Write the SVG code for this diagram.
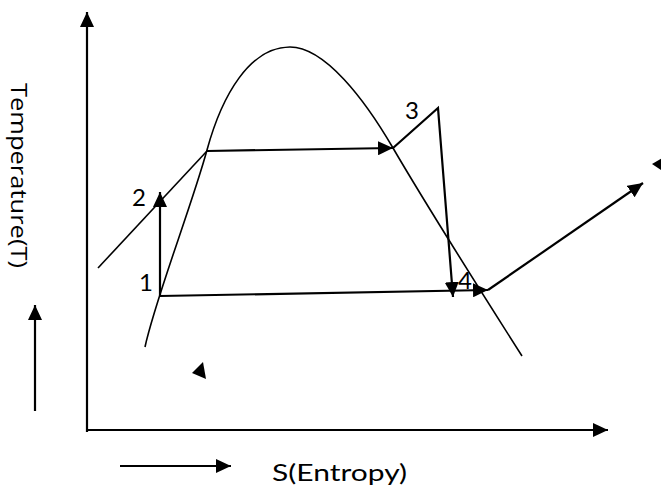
<svg xmlns="http://www.w3.org/2000/svg" width="661" height="489" viewBox="0 0 661 489">
<defs>
<style>
.ln{fill:none;stroke:#000;stroke-width:2.2;stroke-linecap:butt;stroke-linejoin:miter}
.thin{fill:none;stroke:#000;stroke-width:1.6}
.lbl{font-family:Lato,"Liberation Sans",sans-serif;font-size:24px;fill:#000}
.ax{font-family:"Open Sans","Liberation Sans",sans-serif;font-size:21px;fill:#000}
.ax2{font-family:Lato,"Liberation Sans",sans-serif;font-size:24px;fill:#000}
</style>
<marker id="ah" markerUnits="userSpaceOnUse" markerWidth="16" markerHeight="14" refX="15" refY="7" orient="auto">
<path d="M0,0 L15,7 L0,14 Z" fill="#000"/>
</marker>
</defs>
<rect width="661" height="489" fill="#fff"/>

<g id="axes">
<line class="ln" x1="87" y1="432" x2="87" y2="12" marker-end="url(#ah)"/>
<line class="ln" x1="86" y1="430" x2="608" y2="430" marker-end="url(#ah)"/>
<line class="ln" x1="35" y1="411" x2="35" y2="305" marker-end="url(#ah)"/>
<line class="ln" x1="120" y1="466" x2="231" y2="466" marker-end="url(#ah)"/>
<text class="ax" transform="translate(11,83) rotate(90)" textLength="185" lengthAdjust="spacingAndGlyphs">Temperature(T)</text>
<text class="ax2" x="272" y="481" textLength="135" lengthAdjust="spacingAndGlyphs">S(Entropy)</text>
</g>

<g id="dome">
<path class="thin" d="M145,347 C155,300 192,205 207,150 C222,95 250,47 290,47 C325,47 365,100 393,148 C421,196 480,290 522,356"/>
</g>

<g id="connectors">
<line class="thin" x1="98" y1="268" x2="207" y2="151"/>
<line class="ln" x1="207" y1="151" x2="393" y2="148" marker-end="url(#ah)"/>
<polyline class="ln" points="393,148 438,108 453,297" marker-end="url(#ah)"/>
<line class="ln" x1="160" y1="296" x2="488" y2="290" marker-end="url(#ah)"/>
<line class="ln" x1="160" y1="296" x2="160" y2="192" marker-end="url(#ah)"/>
<line class="ln" x1="488" y1="290" x2="643" y2="183" marker-end="url(#ah)"/>
<polygon points="652,164 666,156 664,172" fill="#000"/>
<polygon points="192,373 203,362 206,379" fill="#000"/>
</g>

<g id="labels">
<text class="lbl" x="132" y="206">2</text>
<text class="lbl" x="139" y="291">1</text>
<text class="lbl" x="405" y="119">3</text>
<text class="lbl" x="458" y="289">4</text>
</g>
</svg>
